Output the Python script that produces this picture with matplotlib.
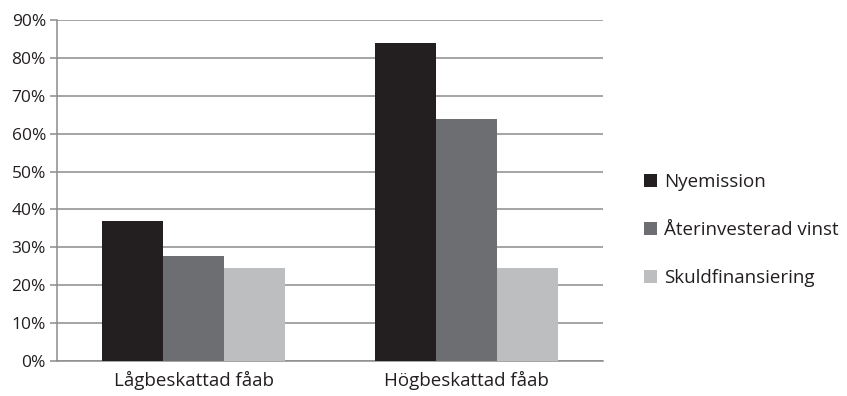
import matplotlib.pyplot as plt
import numpy as np

plt.rcParams['font.family'] = ['Open Sans', 'DejaVu Sans']

categories = ['Lågbeskattad fåab', 'Högbeskattad fåab']
series_names = ['Nyemission', 'Återinvesterad vinst', 'Skuldfinansiering']
nyemission = [37, 84]
aterinvesterad = [27.8, 64]
skuld = [24.6, 24.6]
colors = ['#231f20', '#6d6e71', '#bcbec0']
yticks = [0, 10, 20, 30, 40, 50, 60, 70, 80, 90]

fig = plt.figure(figsize=(8.47, 3.96), dpi=100)
ax = fig.add_axes([57 / 847, 35 / 396, 546 / 847, 341 / 396])

x = np.arange(len(categories))
w = 0.223
for i, (vals, name) in enumerate(zip([nyemission, aterinvesterad, skuld], series_names)):
    ax.bar(x + (i - 1) * w, vals, w, color=colors[i], label=name, zorder=3)

grid_color = '#8c8c8c'
ax.set_xlim(-0.5, 1.5)
ax.set_ylim(0, 90)
ax.set_yticks(yticks)
ax.set_yticklabels([f'{t}%' for t in yticks])
ax.yaxis.grid(True, color=grid_color, linewidth=1.1, zorder=0)
ax.set_xticks(x)
ax.set_xticklabels(categories)
ax.tick_params(axis='y', length=5, color=grid_color, width=1.1, labelsize=12.5, colors='#231f20', pad=3)
ax.tick_params(axis='x', length=0, labelsize=13.5, colors='#231f20', pad=7)
for s in ['top', 'right']:
    ax.spines[s].set_visible(False)
ax.spines['left'].set_color(grid_color)
ax.spines['left'].set_linewidth(1.1)
ax.spines['bottom'].set_color(grid_color)
ax.spines['bottom'].set_linewidth(1.1)

fig.legend(loc='center left', bbox_to_anchor=(636 / 847, 1 - 230 / 396), frameon=False,
           fontsize=13.5, handlelength=0.7, handleheight=0.7, handletextpad=0.4,
           labelspacing=1.6, labelcolor='#231f20', borderaxespad=0)

fig.savefig('out.png', dpi=100)
